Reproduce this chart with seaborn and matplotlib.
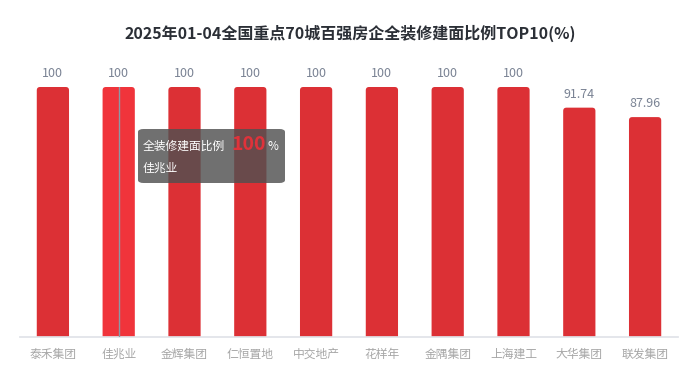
import numpy as np
import pandas as pd
import matplotlib
matplotlib.use("Agg")
import matplotlib.pyplot as plt
import seaborn as sns
from matplotlib.patches import FancyBboxPatch

sns.set_theme(style="white")
plt.rcParams["font.family"] = ["Noto Sans CJK SC", "DejaVu Sans"]

# ── Data ─────────────────────────────────────────────────────────────
companies = ["泰禾集团", "佳兆业", "金辉集团", "仁恒置地", "中交地产",
             "花样年", "金隅集团", "上海建工", "大华集团", "联发集团"]
ratios = [100, 100, 100, 100, 100, 100, 100, 100, 91.74, 87.96]
value_labels = ["100", "100", "100", "100", "100", "100", "100", "100", "91.74", "87.96"]
hover_idx = 1
series_name = "全装修建面比例"

df = pd.DataFrame({"company": companies, "ratio": ratios})

bar_red = "#dc3035"
hover_red = "#f0343b"
palette = [hover_red if i == hover_idx else bar_red for i in range(len(companies))]

fig = plt.figure(figsize=(6.98, 3.76), dpi=100)
ax = fig.add_axes([20 / 698, 39 / 376, 658 / 698, 250 / 376])

sns.barplot(data=df, x="company", y="ratio", hue="company", palette=palette,
            legend=False, width=0.49, saturation=1, ax=ax)
ax.set_ylim(0, 100)
ax.set_xlim(-0.5, len(companies) - 0.5)

# rounded tops: swap seaborn's rectangles for rounded boxes
aspect = (100 / 250) / (len(companies) / 658)
for p in list(ax.patches):
    x, w, h = p.get_x(), p.get_width(), p.get_height()
    fc = p.get_facecolor()
    p.set_visible(False)
    rb = FancyBboxPatch((x, -10), w, h + 10,
                        boxstyle="round,pad=0,rounding_size=0.05",
                        mutation_aspect=aspect, facecolor=fc, edgecolor="none",
                        clip_on=True, zorder=2)
    ax.add_patch(rb)

# value labels
for i, (v, lab) in enumerate(zip(ratios, value_labels)):
    ax.annotate(lab, (i, v), xytext=(0, 5), textcoords="offset points",
                ha="center", va="bottom", fontsize=9, color="#7a8394")

# axis styling
for s in ["top", "right", "left"]:
    ax.spines[s].set_visible(False)
ax.spines["bottom"].set_color("#e0e3e8")
ax.spines["bottom"].set_zorder(3)
ax.set_yticks([])
ax.set_xlabel("")
ax.set_ylabel("")
ax.tick_params(axis="x", colors="#e0e3e8", length=5, width=1, direction="out",
               labelcolor="#a6a6a6", labelsize=8.5, pad=3)

# hover line
ax.plot([hover_idx, hover_idx], [0, ratios[hover_idx]], color="#8a9aa6", lw=1, zorder=5)

# tooltip
x0, y0, w, h = 138 / 698, (376 - 183) / 376, 147 / 698, 54 / 376
box = FancyBboxPatch((x0, y0), w, h, boxstyle="round,pad=0,rounding_size=0.008",
                     transform=fig.transFigure, facecolor="#505050", alpha=0.82,
                     edgecolor="none", zorder=10)
fig.patches.append(box)
fig.text(143 / 698, (376 - 146) / 376, series_name, color="white", fontsize=8.5,
         va="center", ha="left", zorder=11)
fig.text(231 / 698, (376 - 145) / 376, str(value_labels[hover_idx]), color="#e0323a",
         fontsize=14, fontweight="bold", va="center", ha="left", zorder=11)
fig.text(268 / 698, (376 - 146) / 376, "%", color="white", fontsize=8.5,
         va="center", ha="left", zorder=11)
fig.text(143 / 698, (376 - 168) / 376, companies[hover_idx], color="white", fontsize=8.5,
         va="center", ha="left", zorder=11)

fig.text(350 / 698, (376 - 33) / 376, "2025年01-04全国重点70城百强房企全装修建面比例TOP10(%)",
         ha="center", va="center", fontsize=11.5, fontweight="bold", color="#2b2f36")

fig.savefig("out.png", dpi=100)
